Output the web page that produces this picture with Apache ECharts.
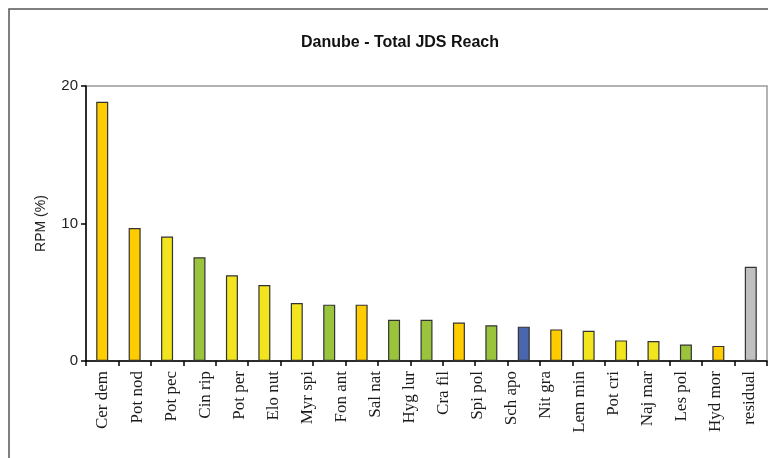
<!DOCTYPE html>
<html>
<head>
<meta charset="utf-8">
<script src="https://cdn.jsdelivr.net/npm/echarts@6/dist/echarts.min.js"></script>
<style>
html,body{margin:0;padding:0;background:#fff;}
#chart{width:768px;height:458px;}
</style>
</head>
<body>
<div id="chart"></div>
<script>
// Tick labels printed under the axis (20 labels)
const tickLabels = ['Cer dem','Pot nod','Pot pec','Cin rip','Pot per','Elo nut','Myr spi','Fon ant','Sal nat','Hyg lur','Cra fil','Spi pol','Sch apo','Nit gra','Lem min','Pot cri','Naj mar','Les pol','Hyd mor','residual'];
// Bars drawn (21 bars)
const barCategories = ['b1','b2','b3','b4','b5','b6','b7','b8','b9','b10','b11','b12','b13','b14','b15','b16','b17','b18','b19','b20','b21'];
const values = [18.85, 9.67, 9.06, 7.54, 6.23, 5.53, 4.22, 4.1, 4.1, 3.0, 3.0, 2.8, 2.6, 2.5, 2.3, 2.2, 1.5, 1.45, 1.2, 1.1, 6.85];
const groups = ['orange','orange','yellow','green','yellow','yellow','yellow','green','orange','green','green','orange','green','blue','orange','yellow','yellow','yellow','green','orange','gray'];
const groupColors = {orange:'#FFCC00', yellow:'#F2E51E', green:'#99C43C', blue:'#4A66AC', gray:'#C0C0C0'};
const yTicks = [0, 10, 20];

const chart = echarts.init(document.getElementById('chart'), null, {renderer:'canvas'});
const option = {
  animation: false,
  backgroundColor: '#fff',
  title: {
    text: 'Danube - Total JDS Reach',
    left: 395, top: 30, textAlign: 'center',
    textStyle: {fontFamily: 'Liberation Sans, Arial', fontSize: 16, fontWeight: 'bold', color: '#111'}
  },
  graphic: [{
    type: 'rect', shape: {x: 9, y: 9, width: 820, height: 520},
    style: {fill: 'none', stroke: '#555', lineWidth: 1.5}, silent: true
  }],
  grid: {left: 86, right: 1, top: 86, bottom: 97, show: true, borderColor: '#9a9a9a', borderWidth: 1.5, backgroundColor: 'transparent'},
  xAxis: [{
    type: 'category', data: barCategories, position: 'bottom',
    axisLine: {show: true, lineStyle: {color: '#000', width: 1.5}},
    axisTick: {show: true, interval: 0, length: 5, lineStyle: {color: '#000', width: 1.5}},
    axisLabel: {show: false}, splitLine: {show: false}
  }, {
    type: 'category', data: tickLabels, position: 'bottom', offset: 0,
    axisLine: {show: false}, axisTick: {show: false}, splitLine: {show: false},
    axisLabel: {interval: 0, rotate: 90, margin: 10, fontFamily: 'Liberation Serif, Times New Roman, serif', fontSize: 17, color: '#1a1a1a'}
  }],
  yAxis: {
    type: 'value', min: yTicks[0], max: yTicks[yTicks.length-1], interval: 10,
    name: 'RPM (%)', nameLocation: 'middle', nameGap: 38, nameRotate: 90,
    nameTextStyle: {fontFamily: 'Liberation Sans, Arial', fontSize: 14, color: '#222'},
    axisLine: {show: true, lineStyle: {color: '#000', width: 1.5}},
    axisTick: {show: true, length: 5, lineStyle: {color: '#000', width: 1.5}},
    axisLabel: {fontFamily: 'Liberation Sans, Arial', fontSize: 15, color: '#222', margin: 8},
    splitLine: {show: false}
  },
  series: [{
    type: 'bar', xAxisIndex: 0, barWidth: 12,
    data: values.map((v, i) => ({value: v, itemStyle: {color: groupColors[groups[i]]}})),
    itemStyle: {borderColor: '#333', borderWidth: 1.2}
  }]
};
chart.setOption(option);
</script>
</body>
</html>
